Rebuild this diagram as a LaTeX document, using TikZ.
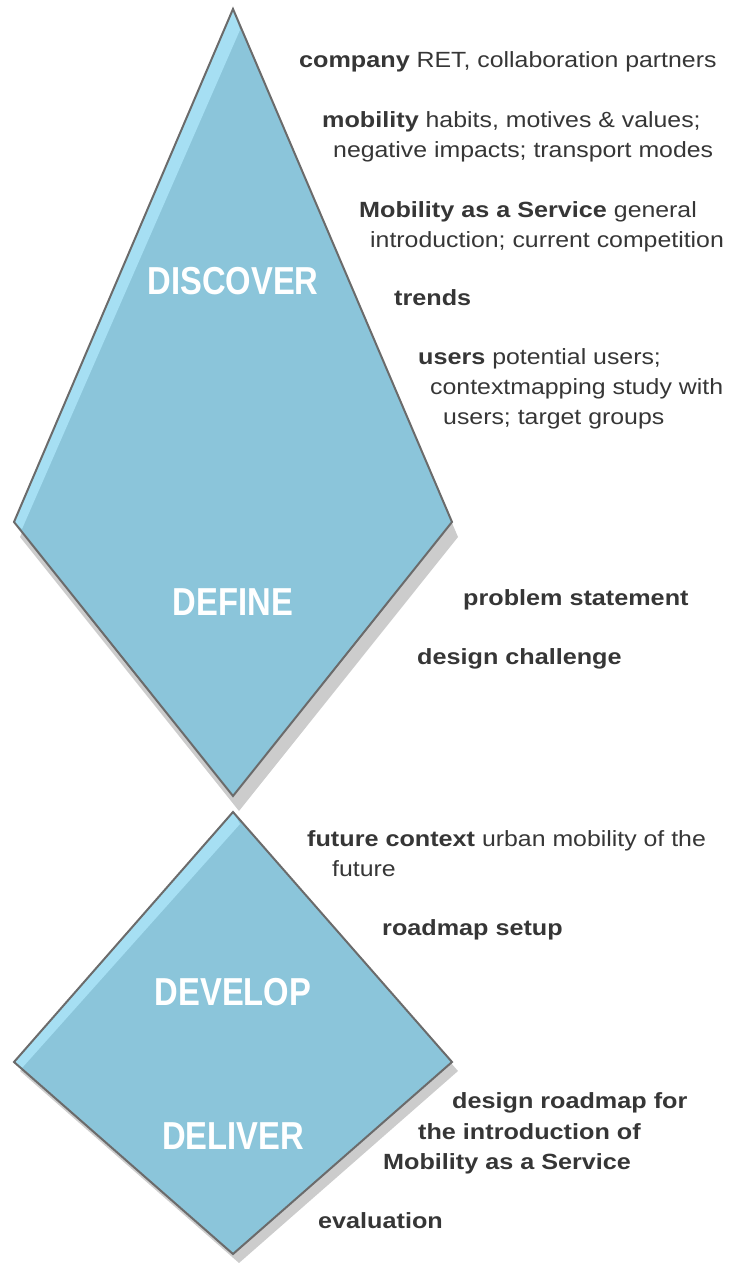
\documentclass[tikz,border=0pt]{standalone}
\usepackage{fontspec}
\setmainfont{Liberation Sans}[FakeStretch=1.13,BoldFeatures={FakeStretch=1.145}]
\newfontfamily\phasefont{Liberation Sans}[FakeStretch=0.84]
\usetikzlibrary{positioning}
\definecolor{facecol}{HTML}{8BC5DA}
\definecolor{lightcol}{HTML}{A6DFF3}
\definecolor{edgecol}{HTML}{6B6B6B}
\definecolor{shadowcol}{HTML}{CCCCCC}
\definecolor{textcol}{HTML}{363636}

\begin{document}
\begin{tikzpicture}[x=1pt,y=-1pt]
  \tikzstyle{phase} = [text=white,inner sep=0pt,font=\phasefont\bfseries\fontsize{39}{39}\selectfont]
  \tikzstyle{item} = [anchor=base west,inner sep=0pt,text=textcol,font=\fontsize{22}{26}\selectfont]
  \useasboundingbox (0,0) rectangle (744,1263);
  \foreach \ty/\my/\by/\sy/\hy/\ly in {9/522/796/15/21/7, 812/1062/1254/9/12/6}{
    \fill[shadowcol] (239,\ty+\sy) -- (458,\my+\sy) -- (239,\by+\sy) -- (20,\my+\sy) -- cycle;
    \fill[facecol] (233,\ty) -- (452,\my) -- (233,\by) -- (14,\my) -- cycle;
    \fill[lightcol] (233,\ty) -- (14,\my) -- (22,\my+\ly) -- (240,\ty+\hy) -- cycle;
    \draw[edgecol,line width=2pt] (233,\ty) -- (452,\my) -- (233,\by) -- (14,\my) -- cycle;
  }
  \node[phase] (discover) at (233,281) {DISCOVER};
  \node[phase] (define) at (233,602) {DEFINE};
  \node[phase] (develop) at (233,992) {DEVELOP};
  \node[phase] (deliver) at (233,1136) {DELIVER};
  \foreach \x/\y/\t [count=\i] in {
      299/67/{\textbf{company} RET, collaboration partners},
      322/127/{\textbf{mobility} habits, motives \& values;},
      333/157/{negative impacts; transport modes},
      359/217/{\textbf{Mobility as a Service} general},
      370/247/{introduction; current competition},
      394/305/{\textbf{trends}},
      418/364/{\textbf{users} potential users;},
      430/394/{contextmapping study with},
      443/424/{users; target groups},
      463/605/{\textbf{problem statement}},
      417/664/{\textbf{design challenge}},
      307/846/{\textbf{future context} urban mobility of the},
      332/876/{future},
      382/935/{\textbf{roadmap setup}},
      452/1108/{\textbf{design roadmap for}},
      418/1139/{\textbf{the introduction of}},
      383/1169/{\textbf{Mobility as a Service}},
      318/1228/{\textbf{evaluation}}}{
    \node[item] (line\i) at (\x,\y) {\t};
  }
\end{tikzpicture}
\end{document}
